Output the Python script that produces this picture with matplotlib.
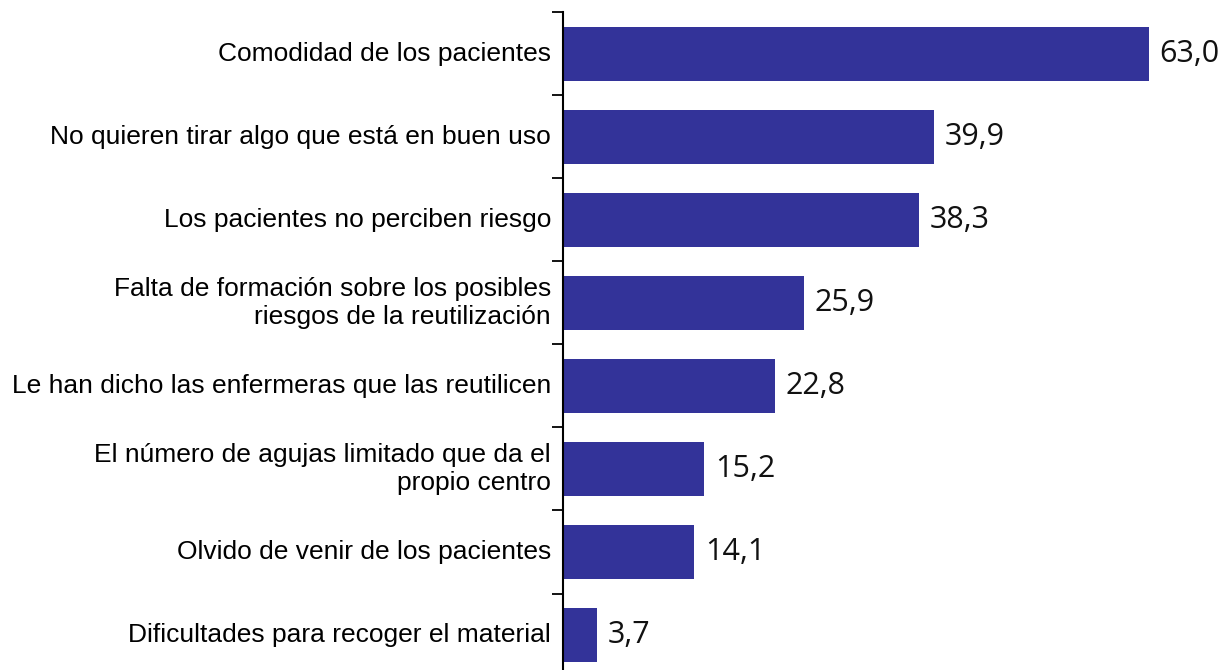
import matplotlib
matplotlib.use('Agg')
import matplotlib.pyplot as plt

categorias = ['Comodidad de los pacientes',
              'No quieren tirar algo que está en buen uso',
              'Los pacientes no perciben riesgo',
              'Falta de formación sobre los posibles\nriesgos de la reutilización',
              'Le han dicho las enfermeras que las reutilicen',
              'El número de agujas limitado que da el\npropio centro',
              'Olvido de venir de los pacientes',
              'Dificultades para recoger el material']
valores = [63.0, 39.9, 38.3, 25.9, 22.8, 15.2, 14.1, 3.7]
etiquetas = ['63,0', '39,9', '38,3', '25,9', '22,8', '15,2', '14,1', '3,7']

W, H = 1225, 670
fig = plt.figure(figsize=(W / 100, H / 100), dpi=100)
left = 563 / W
top = 12.5 / H
ax = fig.add_axes([left, 0, 1 - left, 1 - top])

pos = list(range(len(categorias)))
ax.barh(pos, valores, height=0.66, color='#333399', zorder=2)

for p, v, t in zip(pos, valores, etiquetas):
    ax.text(v + 1.15, p, t, va='center', ha='left', fontsize=22,
            family='Open Sans', color='#111111')

# rows are 83 px apart
span = (H - 12.5) / 83
ax.set_ylim(-0.5 + span, -0.5)
ax.set_xlim(0, (W - 563) / 9.3)

ax.set_yticks([p - 0.5 for p in pos])
ax.set_yticklabels([])
ax.tick_params(axis='y', direction='out', length=8, width=1.3, color='black')
for p, c in zip(pos, categorias):
    ax.text(-1.3, p, c, ha='right', va='center', fontsize=19,
            family='Liberation Sans', color='black', linespacing=1.25)

ax.set_xticks([])
for s in ['top', 'right', 'bottom']:
    ax.spines[s].set_visible(False)
ax.spines['left'].set_linewidth(1.5)

fig.savefig('out.png', dpi=100)
